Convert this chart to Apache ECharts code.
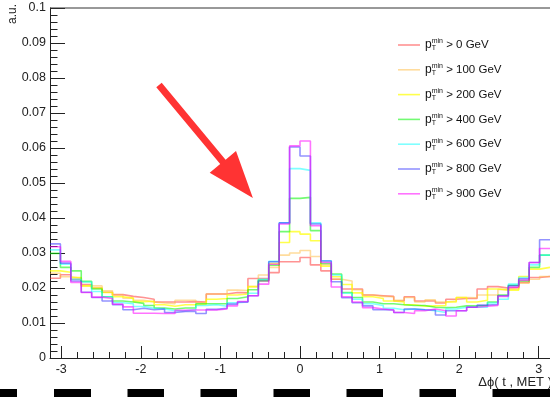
<!DOCTYPE html>
<html>
<head>
<meta charset="utf-8">
<script src="https://cdn.jsdelivr.net/npm/echarts@6/dist/echarts.min.js"></script>
<style>
html,body{margin:0;padding:0;background:#fff;}
#c{width:550px;height:397px;}
</style>
</head>
<body>
<div id="c"></div>
<script>
// ---- data (48 bins over [-pi, pi]) ----
const thresholds = [0, 100, 200, 400, 600, 800, 900];
const xTickLabels = [-3, -2, -1, 0, 1, 2, 3];
const yTickLabels = [0, 0.01, 0.02, 0.03, 0.04, 0.05, 0.06, 0.07, 0.08, 0.09, 0.1];

const pt0 = [0.0228,0.0238,0.0225,0.0210,0.0200,0.0188,0.0181,0.0176,0.0173,0.0168,0.0160,0.0160,
             0.0160,0.0161,0.0160,0.0183,0.0183,0.0187,0.0186,0.0227,0.0227,0.0244,0.0275,0.0275,
             0.0287,0.0266,0.0249,0.0225,0.0197,0.0197,0.0180,0.0178,0.0176,0.0163,0.0175,0.0163,
             0.0163,0.0157,0.0168,0.0170,0.0170,0.0197,0.0204,0.0200,0.0201,0.0216,0.0230,0.0233];
const pt100 = [0.0242,0.0232,0.0228,0.0206,0.0206,0.0192,0.0180,0.0171,0.0165,0.0160,0.0157,0.0155,
               0.0165,0.0165,0.0158,0.0183,0.0183,0.0194,0.0193,0.0204,0.0237,0.0259,0.0294,0.0300,
               0.0307,0.0290,0.0266,0.0225,0.0220,0.0195,0.0180,0.0176,0.0175,0.0165,0.0173,0.0160,
               0.0166,0.0160,0.0163,0.0173,0.0172,0.0180,0.0180,0.0196,0.0197,0.0214,0.0225,0.0233];
const pt200 = [0.0249,0.0245,0.0230,0.0206,0.0200,0.0187,0.0175,0.0171,0.0161,0.0162,0.0152,0.0148,
               0.0152,0.0152,0.0154,0.0168,0.0170,0.0180,0.0183,0.0204,0.0220,0.0270,0.0330,0.0361,
               0.0354,0.0335,0.0262,0.0232,0.0210,0.0186,0.0175,0.0170,0.0163,0.0160,0.0152,0.0148,
               0.0149,0.0150,0.0160,0.0173,0.0160,0.0165,0.0197,0.0194,0.0194,0.0233,0.0254,0.0259];
const pt400 = [0.0299,0.0259,0.0249,0.0219,0.0197,0.0175,0.0163,0.0160,0.0156,0.0150,0.0143,0.0140,
               0.0143,0.0143,0.0155,0.0155,0.0155,0.0170,0.0175,0.0195,0.0223,0.0265,0.0361,0.0456,
               0.0459,0.0364,0.0270,0.0240,0.0187,0.0173,0.0160,0.0155,0.0155,0.0152,0.0150,0.0150,
               0.0145,0.0144,0.0145,0.0149,0.0149,0.0150,0.0160,0.0180,0.0208,0.0220,0.0259,0.0294];
const pt600 = [0.0309,0.0268,0.0225,0.0217,0.0190,0.0175,0.0158,0.0155,0.0147,0.0142,0.0140,0.0135,
               0.0135,0.0138,0.0150,0.0152,0.0148,0.0158,0.0160,0.0185,0.0225,0.0276,0.0386,0.0541,
               0.0536,0.0386,0.0278,0.0237,0.0185,0.0168,0.0155,0.0150,0.0142,0.0138,0.0140,0.0138,
               0.0135,0.0130,0.0140,0.0145,0.0145,0.0145,0.0157,0.0168,0.0211,0.0230,0.0266,0.0294];
const pt800 = [0.0326,0.0271,0.0220,0.0188,0.0173,0.0163,0.0152,0.0138,0.0142,0.0138,0.0140,0.0130,
               0.0133,0.0133,0.0127,0.0139,0.0142,0.0154,0.0160,0.0178,0.0220,0.0275,0.0386,0.0603,
               0.0577,0.0383,0.0277,0.0218,0.0172,0.0158,0.0149,0.0138,0.0137,0.0130,0.0140,0.0138,
               0.0137,0.0123,0.0135,0.0135,0.0145,0.0151,0.0153,0.0178,0.0206,0.0226,0.0273,0.0338];
const pt900 = [0.0318,0.0276,0.0216,0.0187,0.0174,0.0170,0.0154,0.0146,0.0128,0.0128,0.0127,0.0127,
               0.0136,0.0137,0.0137,0.0137,0.0140,0.0149,0.0161,0.0178,0.0211,0.0268,0.0383,0.0606,
               0.0620,0.0378,0.0273,0.0203,0.0175,0.0160,0.0144,0.0140,0.0137,0.0130,0.0127,0.0135,
               0.0140,0.0135,0.0120,0.0135,0.0145,0.0148,0.0150,0.0176,0.0202,0.0222,0.0273,0.0313];

const seriesValues = [pt0, pt100, pt200, pt400, pt600, pt800, pt900];
const seriesColors = ['rgba(255,40,40,0.5)','rgba(255,185,60,0.5)','rgba(255,255,0,0.7)',
                      'rgba(0,245,0,0.55)','rgba(0,255,255,0.5)','rgba(40,40,255,0.5)','rgba(255,0,255,0.55)'];

const FONT = 'Liberation Sans, Arial, Helvetica, sans-serif';
const xMin = -Math.PI, xMax = Math.PI;
const nBins = pt0.length;
const binW = (xMax - xMin) / nBins;

function toSteps(vals) {
  const pts = vals.map((v, i) => [xMin + i * binW, v]);
  pts.push([xMax, vals[vals.length - 1]]);
  return pts;
}

// minor tick positions between labelled ticks (5 subdivisions)
const xMinorTicks = [];
for (let i = 0; i < xTickLabels.length - 1; i++) {
  for (let j = 1; j < 5; j++) xMinorTicks.push(xTickLabels[i] + j * (xTickLabels[i+1] - xTickLabels[i]) / 5);
}

const chart = echarts.init(document.getElementById('c'), null, {renderer: 'canvas'});

const series = thresholds.map((t, k) => ({
  name: '> ' + t + ' GeV',
  type: 'line',
  step: 'end',
  symbol: 'none',
  showSymbol: false,
  xAxisIndex: 0,
  yAxisIndex: 0,
  data: toSteps(seriesValues[k]),
  lineStyle: {color: seriesColors[k], width: 1.6},
  itemStyle: {color: seriesColors[k]},
  emphasis: {disabled: true},
  animation: false
}));

const option = {
  animation: false,
  backgroundColor: '#fff',
  grid: {left: 50, right: 0, top: 8, bottom: 39, containLabel: false, outerBoundsMode: 'none'},
  xAxis: [{
    type: 'value', min: xMin, max: xMax,
    axisLine: {show: true, onZero: false, lineStyle: {color: '#222', width: 1}},
    axisTick: {show: true, inside: true, length: 12, customValues: xTickLabels, lineStyle: {color: '#222'}},
    axisLabel: {show: true, customValues: xTickLabels, margin: 5, fontSize: 12.5, fontFamily: FONT, color: '#222',
                formatter: v => String(Math.round(v))},
    splitLine: {show: false}
  }, {
    type: 'value', min: xMin, max: xMax, position: 'bottom',
    axisLine: {show: false},
    axisTick: {show: true, inside: true, length: 6, customValues: xMinorTicks, lineStyle: {color: '#222'}},
    axisLabel: {show: false},
    splitLine: {show: false}
  }],
  yAxis: [{
    type: 'value', min: 0, max: 0.1, interval: 0.01,
    axisLine: {show: true, onZero: false, lineStyle: {color: '#222', width: 1}},
    axisTick: {show: true, inside: true, length: 15, lineStyle: {color: '#222'}},
    minorTick: {show: true, splitNumber: 5, length: 7.5, lineStyle: {color: '#222'}},
    axisLabel: {margin: 4, fontSize: 12.5, fontFamily: FONT, color: '#222',
                formatter: v => String(+v.toFixed(3))},
    splitLine: {show: false},
    minorSplitLine: {show: false}
  }],
  legend: {
    orient: 'vertical', left: 398, top: 38, padding: 0,
    itemWidth: 22, itemHeight: 14, itemGap: 10.8,
    icon: 'path://M0,0 L22,0 L22,1.6 L0,1.6 Z',
    selectedMode: false,
    formatter: name => '{p|p}{t|T}{m|min}{r| ' + name + '}',
    textStyle: {
      fontFamily: FONT, color: '#111',
      rich: {
        p: {fontSize: 12, lineHeight: 14, fontFamily: FONT, color: '#111', verticalAlign: 'middle'},
        t: {fontSize: 7, width: 0, fontFamily: FONT, color: '#111', verticalAlign: 'bottom'},
        m: {fontSize: 7, fontFamily: FONT, color: '#111', verticalAlign: 'top'},
        r: {fontSize: 11.5, lineHeight: 14, fontFamily: FONT, color: '#111', verticalAlign: 'middle'}
      }
    },
    data: series.map(s => s.name)
  },
  graphic: [
    // top frame line
    {type: 'line', shape: {x1: 50, y1: 8, x2: 550, y2: 8}, style: {stroke: '#333', lineWidth: 1}, z: 10},
    // y-axis title
    {type: 'text', x: 13, y: 4, rotation: Math.PI / 2,
     style: {text: 'a.u.', font: '12px ' + FONT, fill: '#222', align: 'right', verticalAlign: 'middle'}},
    // x-axis title
    {type: 'text', x: 552, y: 382,
     style: {text: 'Δϕ( t , MET )', font: '13px ' + FONT, fill: '#222', align: 'right', verticalAlign: 'middle'}},
    // red arrow
    {type: 'polygon', z: 20,
     shape: {points: [[161.7,82.8],[225.6,159.7],[236,151],[252.9,198],[209.7,172.8],[220.2,164.1],[156.3,87.2]]},
     style: {fill: '#ff3333'}},
    // black dashes at bottom
    {type: 'rect', shape: {x: 0, y: 389, width: 17, height: 8}, style: {fill: '#000'}},
    {type: 'rect', shape: {x: 54, y: 389, width: 37, height: 8}, style: {fill: '#000'}},
    {type: 'rect', shape: {x: 127.5, y: 389, width: 36.5, height: 8}, style: {fill: '#000'}},
    {type: 'rect', shape: {x: 200.5, y: 389, width: 36.5, height: 8}, style: {fill: '#000'}},
    {type: 'rect', shape: {x: 273.5, y: 389, width: 36.5, height: 8}, style: {fill: '#000'}},
    {type: 'rect', shape: {x: 346.5, y: 389, width: 36.5, height: 8}, style: {fill: '#000'}},
    {type: 'rect', shape: {x: 419.5, y: 389, width: 36.5, height: 8}, style: {fill: '#000'}},
    {type: 'rect', shape: {x: 492.5, y: 389, width: 58, height: 8}, style: {fill: '#000'}}
  ],
  series: series
};

chart.setOption(option);
</script>
</body>
</html>
